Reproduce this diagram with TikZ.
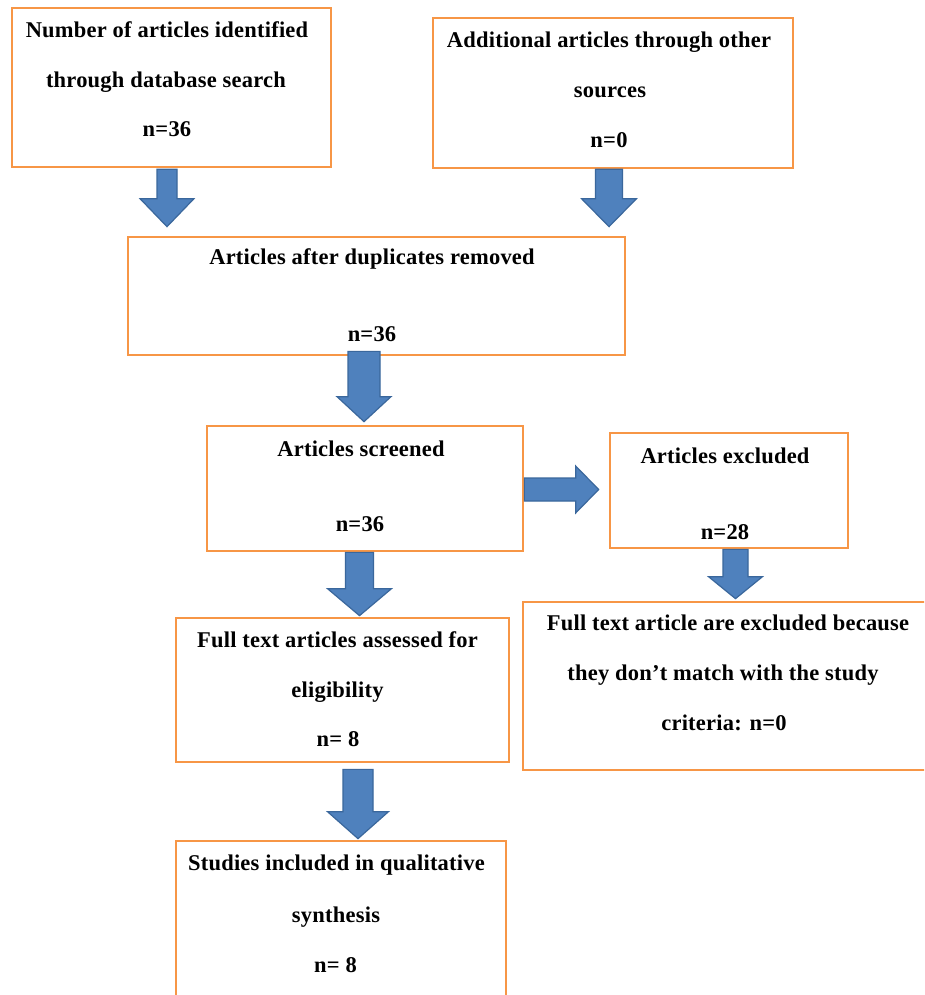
\documentclass[tikz,border=0pt]{standalone}
\usepackage{fontspec}
\setmainfont{Liberation Serif}[LetterSpace=1]
\usetikzlibrary{calc}
\definecolor{boxorange}{HTML}{F79646}
\definecolor{arrowfill}{HTML}{4F81BD}
\definecolor{arrowline}{HTML}{3A679C}
\tikzset{
 box/.style={draw=boxorange, line width=2.7pt, rectangle, inner sep=0pt, fill=white},
 txt/.style={font=\bfseries\fontsize{22.5}{26}\selectfont, anchor=base, inner sep=0pt},
 barrow/.style={fill=arrowfill, draw=arrowline, line width=1.2pt, line join=miter},
}
% #1 x, #2 from anchor, #3 to anchor, #4 top shift down, #5 tip gap, #6 shaft half, #7 head half, #8 head length
\newcommand\bdown[8]{\draw[barrow] let \p1=(#2), \p2=(#3) in
 ({#1pt-#6pt},{\y1-(#4pt)}) -- ({#1pt+#6pt},{\y1-(#4pt)}) --
 ({#1pt+#6pt},{\y2+(#5pt)+(#8pt)}) -- ({#1pt+#7pt},{\y2+(#5pt)+(#8pt)}) --
 ({#1pt},{\y2+(#5pt)}) --
 ({#1pt-#7pt},{\y2+(#5pt)+(#8pt)}) -- ({#1pt-#6pt},{\y2+(#5pt)+(#8pt)}) -- cycle;}
% #1 y, #2 from anchor, #3 to anchor, #4 start shift, #5 tip gap, #6 shaft half, #7 head half, #8 head length
\newcommand\bright[8]{\draw[barrow] let \p1=(#2), \p2=(#3) in
 ({\x1+(#4pt)},{-#1pt+#6pt}) -- ({\x2-(#5pt)-(#8pt)},{-#1pt+#6pt}) --
 ({\x2-(#5pt)-(#8pt)},{-#1pt+#7pt}) -- ({\x2-(#5pt)},{-#1pt}) --
 ({\x2-(#5pt)-(#8pt)},{-#1pt-#7pt}) -- ({\x2-(#5pt)-(#8pt)},{-#1pt-#6pt}) --
 ({\x1+(#4pt)},{-#1pt-#6pt}) -- cycle;}
\begin{document}
\begin{tikzpicture}[x=1pt,y=-1pt]
\useasboundingbox (0,0) rectangle (924,995);
\clip (0,0) rectangle (924,995);
\fill[white] (0,0) rectangle (924,995);
% boxes
\node[box, minimum width=319pt, minimum height=159pt] (A) at (171.5,87.5) {};
\node[box, minimum width=360pt, minimum height=150pt] (B) at (613,93) {};
\node[box, minimum width=497pt, minimum height=118pt] (C) at (376.5,296) {};
\node[box, minimum width=316pt, minimum height=125pt] (D) at (365,488.5) {};
\node[box, minimum width=238pt, minimum height=115pt] (E) at (729,490.5) {};
\node[box, minimum width=412pt, minimum height=168pt] (F) at (729,686) {};
\node[box, minimum width=333pt, minimum height=144pt] (G) at (342.5,690) {};
\node[box, minimum width=330pt, minimum height=170pt] (H) at (341,926) {};
% texts
\node[txt] (a1) at (167,38) {Number of articles identified};
\node[txt] (a2) at (166,88) {through database search};
\node[txt] (a3) at (167,137) {n=36};
\node[txt] (b1) at (609,48) {Additional articles through other};
\node[txt] (b2) at (610,98) {sources};
\node[txt] (b3) at (609,148) {n=0};
\node[txt] (c1) at (372,264) {Articles after duplicates removed};
\node[txt] (c2) at (372,341) {n=36};
\node[txt] (d1) at (361,456) {Articles screened};
\node[txt] (d2) at (360,531) {n=36};
\node[txt] (e1) at (725,463) {Articles excluded};
\node[txt] (e2) at (725,539) {n=28};
\node[txt] (f1) at (728,630) {Full text article are excluded because};
\node[txt] (f2) at (723,680) {they don’t match with the study};
\node[txt] (f3) at (724,730) {criteria: n=0};
\node[txt] (g1) at (337.5,647) {Full text articles assessed for};
\node[txt] (g2) at (337.5,697) {eligibility};
\node[txt] (g3) at (338,746) {n= 8};
\node[txt] (h1) at (336.5,870) {Studies included in qualitative};
\node[txt] (h2) at (336,922) {synthesis};
\node[txt] (h3) at (335.5,972) {n= 8};
% block arrows
\bdown{167}{A.south}{C.north}{1}{9}{10}{27}{28}
\bdown{609}{B.south}{C.north}{0}{9}{13.5}{27.5}{28}
\bdown{364}{C.south}{D.north}{-5}{3}{16}{27}{25}
\bdown{359.5}{D.south}{G.north}{0}{1}{14}{32}{27}
\bdown{735.5}{E.south}{F.north}{0}{2}{12.5}{27}{22}
\bdown{358}{G.south}{H.north}{6}{1}{15}{30.5}{27}
\bright{489.5}{D.east}{E.west}{0}{10}{11.5}{23.5}{23}
\end{tikzpicture}
\end{document}
